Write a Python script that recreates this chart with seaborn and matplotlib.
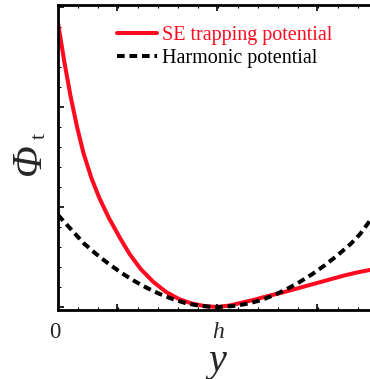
import numpy as np
import pandas as pd
import matplotlib
matplotlib.use("Agg")
import matplotlib.pyplot as plt
from matplotlib.ticker import FixedLocator, MultipleLocator, NullFormatter
import seaborn as sns

# distance from the wall, in units of the equilibrium height h
y_se = [0.0, 0.04, 0.08, 0.12, 0.16, 0.21, 0.26, 0.32, 0.39, 0.45, 0.52, 0.60,
        0.68, 0.76, 0.84, 0.92, 1.0, 1.08, 1.16, 1.24, 1.32, 1.40, 1.48, 1.56,
        1.64, 1.72, 1.80, 1.88, 1.96]
phi_se = [2.84, 2.45, 2.10, 1.80, 1.54, 1.29, 1.09, 0.89, 0.69, 0.53, 0.38, 0.25,
          0.15, 0.08, 0.035, 0.01, 0.0, 0.015, 0.045, 0.075, 0.11, 0.14, 0.175,
          0.21, 0.245, 0.28, 0.315, 0.345, 0.37]

y_harm = [0.0, 0.08, 0.16, 0.24, 0.32, 0.40, 0.48, 0.56, 0.64, 0.72, 0.80, 0.88,
          0.96, 1.0, 1.04, 1.12, 1.20, 1.28, 1.36, 1.44, 1.52, 1.60, 1.68, 1.76,
          1.84, 1.90, 1.96]
phi_harm = [0.92, 0.78, 0.64, 0.53, 0.43, 0.34, 0.26, 0.19, 0.13, 0.08, 0.04,
            0.015, 0.002, 0.0, 0.002, 0.013, 0.036, 0.07, 0.12, 0.18, 0.25, 0.33,
            0.42, 0.52, 0.63, 0.73, 0.86]

series_names = ["SE trapping potential", "Harmonic potential"]
RED = "#ff0a1e"

df = pd.concat([
    pd.DataFrame({"y": y_se, "phi": phi_se, "model": series_names[0]}),
    pd.DataFrame({"y": y_harm, "phi": phi_harm, "model": series_names[1]}),
])

sns.set_theme(style="white")
plt.rcParams["font.family"] = ["Liberation Serif", "DejaVu Serif"]
plt.rcParams["mathtext.fontset"] = "custom"
plt.rcParams["mathtext.it"] = "Liberation Serif:italic"
plt.rcParams["mathtext.rm"] = "Liberation Serif"

fig = plt.figure(figsize=(3.70, 3.79), dpi=100)
ax = fig.add_axes([58 / 370, 1 - 310 / 379, 1 - 58 / 370, 305 / 379])

sns.lineplot(data=df, x="y", y="phi", hue="model", style="model",
             palette={series_names[0]: RED, series_names[1]: "black"},
             dashes={series_names[0]: "", series_names[1]: (1.9, 1.2)},
             linewidth=2.9, ax=ax, legend=True, sort=False)

ax.set_xlim(0, 1.962)
ax.set_ylim(-0.03, 3.02)

# frame: left, bottom and top spines with inward ticks
for side in ["left", "bottom", "top"]:
    ax.spines[side].set_visible(True)
    ax.spines[side].set_color("black")
    ax.spines[side].set_linewidth(2.0)
ax.spines["right"].set_visible(False)

ax.xaxis.set_major_locator(FixedLocator([0.371, 1.0, 1.629]))
ax.xaxis.set_minor_locator(FixedLocator(np.arange(0.0, 2.0, 0.1258)))
ax.yaxis.set_major_locator(MultipleLocator(1.0))
ax.yaxis.set_minor_locator(MultipleLocator(0.2))
ax.xaxis.set_major_formatter(NullFormatter())
ax.yaxis.set_major_formatter(NullFormatter())
ax.tick_params(which="both", direction="in", color="black",
               bottom=True, top=True, left=True, right=False)
ax.tick_params(which="major", length=4, width=1.2)
ax.tick_params(which="minor", length=2, width=0.8)

ax.set_xlabel("")
ax.set_ylabel("")

# axis annotations
base = 1 - 338 / 379
fig.text(55 / 370, base, "0", ha="center", va="baseline", fontsize=16.5)
fig.text(218 / 370, base, "h", ha="center", va="baseline", fontsize=17,
         fontstyle="italic")
fig.text(217 / 370, 1 - 371 / 379, "y", ha="center", va="baseline",
         fontsize=29, fontstyle="italic")
fig.text(29.5 / 370, 1 - 159 / 379, "\u03a6", ha="center", va="center",
         fontsize=30, fontstyle="italic", rotation=90)
fig.text(40 / 370, 1 - 136 / 379, "t", ha="center", va="center",
         fontsize=16, rotation=90)

leg = ax.legend(loc="upper left", bbox_to_anchor=(0.189, 0.93), frameon=False,
                fontsize=14.5, handlelength=2.0, handletextpad=0.25,
                labelspacing=0.15, borderaxespad=0, borderpad=0)
for txt, col in zip(leg.get_texts(), [RED, "black"]):
    txt.set_color(col)

fig.savefig("out.png", dpi=100)
